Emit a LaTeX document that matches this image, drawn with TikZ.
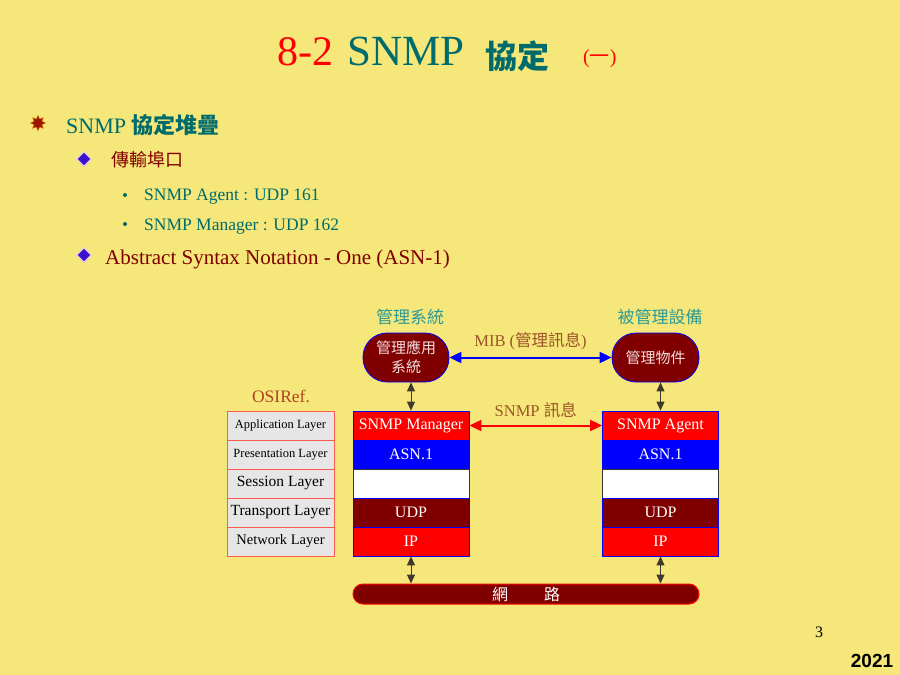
\documentclass[tikz,border=0pt]{standalone}
\usepackage{fontspec}
\usepackage{xcolor}
\usepackage{tikz}
\usetikzlibrary{arrows.meta,shapes.geometric}
\setmainfont{Liberation Serif}
\newfontfamily\cjk{Noto Sans CJK TC}
\newfontfamily\yearfont{Liberation Sans}
\definecolor{slideyellow}{HTML}{F5E77A}
\definecolor{slidered}{HTML}{FF0000}
\definecolor{slideteal}{HTML}{006B6B}
\definecolor{lightteal}{HTML}{2E9A96}
\definecolor{slidemaroon}{HTML}{800000}
\definecolor{labelbrown}{HTML}{9C5428}
\definecolor{osiedge}{HTML}{FF5A50}
\definecolor{osigrey}{HTML}{E6E6E6}
\definecolor{ovaltext}{HTML}{F2DCDC}
\definecolor{bulletviolet}{HTML}{3A10C8}
\tikzset{
  layerbox/.style={draw=osiedge,fill=osigrey,line width=1pt,
    minimum width=107pt,minimum height=29pt,inner sep=0pt},
  stackbox/.style={draw=blue,line width=0.8pt,minimum width=116pt,
    minimum height=29pt,inner sep=0pt,text=white,
    font=\fontsize{16}{16}\selectfont},
  ovalbox/.style={draw=blue,fill=slidemaroon,line width=0.8pt,
    rounded corners=24pt,minimum height=49pt,inner sep=0pt,
    text=ovaltext,align=center,font=\cjk\fontsize{15}{19}\selectfont},
  peer link/.style={{Triangle[length=12pt,width=11pt]}-{Triangle[length=12pt,width=11pt]},
    line width=2pt},
  stack link/.style={{Triangle[length=9pt,width=8pt]}-{Triangle[length=9pt,width=8pt]},
    draw=black!75!olive,line width=1pt},
  diamond bullet/.style={diamond,fill=bulletviolet,draw=violet!20,
    line width=1.2pt,minimum size=15pt,inner sep=0pt},
  dot bullet/.style={circle,fill=slideteal,inner sep=0pt,minimum size=4pt}
}
\begin{document}
\begin{tikzpicture}[x=1pt,y=-1pt]
  \fill[slideyellow] (0,0) rectangle (900,675);
  \useasboundingbox (0,0) rectangle (900,675);

  % title
  \node[anchor=base west,inner sep=0pt,text=slidered,font=\fontsize{42}{42}\selectfont]
    (t82) at (277,65) {8-2};
  \node[anchor=base west,inner sep=0pt,text=slideteal,font=\fontsize{43}{43}\selectfont]
    (tsnmp) at (347,65) {SNMP};
  \node[anchor=base west,inner sep=0pt,text=slideteal,font=\cjk\bfseries\fontsize{32}{32}\selectfont]
    (tproto) at (485,68) {協定};
  \node[anchor=base west,inner sep=0pt,text=slidered,font=\fontsize{20}{20}\selectfont]
    (tpart) at (583,63) {({\cjk 一})};

  % bullets
  \node[star,star points=8,star point ratio=1.8,fill=slidemaroon!80!orange,
    draw=orange!70!slidemaroon,inner sep=0pt,minimum size=15pt] (b1) at (38,123) {};
  \node[anchor=base west,inner sep=0pt,text=slideteal,font=\fontsize{22}{22}\selectfont]
    (stack) at (66,133) {SNMP {\cjk\bfseries 協定堆疊}};
  \node[diamond bullet] (b2) at (84,159) {};
  \node[anchor=west,inner sep=0pt,text=slidemaroon,font=\cjk\fontsize{18}{18}\selectfont]
    (port) at (111,160) {傳輸埠口};
  \node[dot bullet] (b3) at (125,195) {};
  \node[anchor=base west,inner sep=0pt,text=slideteal,font=\fontsize{17.5}{18}\selectfont]
    (agentport) at (144,200) {SNMP Agent : UDP 161};
  \node[dot bullet] (b4) at (125,224) {};
  \node[anchor=base west,inner sep=0pt,text=slideteal,font=\fontsize{17.5}{18}\selectfont]
    (mgrport) at (144,230) {SNMP Manager : UDP 162};
  \node[diamond bullet] (b5) at (84,255) {};
  \node[anchor=base west,inner sep=0pt,text=slidemaroon,font=\fontsize{21}{21}\selectfont]
    (asn) at (105,264) {Abstract Syntax Notation - One (ASN-1)};

  % top labels and ovals
  \node[text=lightteal,font=\cjk\fontsize{17}{17}\selectfont] (mgrsys) at (410,317) {管理系統};
  \node[text=lightteal,font=\cjk\fontsize{17}{17}\selectfont] (agtdev) at (660,317) {被管理設備};
  \node[ovalbox,minimum width=86pt] (mgrapp) at (406,357.5) {管理應用\\系統};
  \node[ovalbox,minimum width=87pt] (agtobj) at (655.5,357.5) {管理物件};

  % OSI reference column
  \node[text=labelbrown!80!red,font=\fontsize{17.5}{17.5}\selectfont] (osiref) at (281,396) {OSIRef.};
  \node[layerbox,font=\fontsize{12.5}{12.5}\selectfont] (osiapp) at (280.5,425.5) {Application Layer};
  \node[layerbox,font=\fontsize{12.5}{12.5}\selectfont] (osipre) at (280.5,454.5) {Presentation Layer};
  \node[layerbox,font=\fontsize{15.5}{15.5}\selectfont] (osises) at (280.5,483.5) {Session Layer};
  \node[layerbox,font=\fontsize{15.5}{15.5}\selectfont] (ositra) at (280.5,512.5) {Transport Layer};
  \node[layerbox,font=\fontsize{14.5}{14.5}\selectfont] (osinet) at (280.5,541.5) {Network Layer};

  % manager stack
  \node[stackbox,fill=red] (mgrtop) at (411,425.5) {SNMP Manager};
  \node[stackbox,fill=blue] (mgrasn) at (411,454.5) {ASN.1};
  \node[stackbox,fill=white,draw=black!80] (mgrses) at (411,483.5) {};
  \node[stackbox,fill=slidemaroon] (mgrudp) at (411,512.5) {UDP};
  \node[stackbox,fill=red] (mgrip) at (411,541.5) {IP};

  % agent stack
  \node[stackbox,fill=red] (agttop) at (660.5,425.5) {SNMP Agent};
  \node[stackbox,fill=blue] (agtasn) at (660.5,454.5) {ASN.1};
  \node[stackbox,fill=white,draw=black!80] (agtses) at (660.5,483.5) {};
  \node[stackbox,fill=slidemaroon] (agtudp) at (660.5,512.5) {UDP};
  \node[stackbox,fill=red] (agtip) at (660.5,541.5) {IP};

  % network
  \node[draw=red,fill=slidemaroon,line width=1pt,rounded corners=10pt,
    minimum width=346pt,minimum height=20pt,inner sep=0pt,text=white,
    font=\cjk\fontsize{16}{16}\selectfont] (net) at (526,594) {網\hspace{36pt}路};

  % links
  \draw[peer link,blue] (mgrapp.east) -- (agtobj.west)
    node[midway,above=3pt,text=labelbrown,font=\fontsize{16.5}{16.5}\selectfont]
    (miblabel) {MIB ({\cjk 管理訊息})};
  \draw[peer link,red] (mgrtop.east) -- (agttop.west)
    node[midway,above=3pt,text=labelbrown,font=\fontsize{16.5}{16.5}\selectfont]
    (snmplabel) {SNMP {\cjk 訊息}};
  \draw[stack link] (mgrtop.north) -- (mgrtop.north |- mgrapp.south);
  \draw[stack link] (agttop.north) -- (agttop.north |- agtobj.south);
  \draw[stack link] (mgrip.south) -- (mgrip.south |- net.north);
  \draw[stack link] (agtip.south) -- (agtip.south |- net.north);

  % footer
  \node[font=\fontsize{16}{16}\selectfont] (pageno) at (819,632) {3};
  \node[font=\yearfont\bfseries\fontsize{19}{19}\selectfont] (year) at (872,661) {2021};
\end{tikzpicture}
\end{document}
